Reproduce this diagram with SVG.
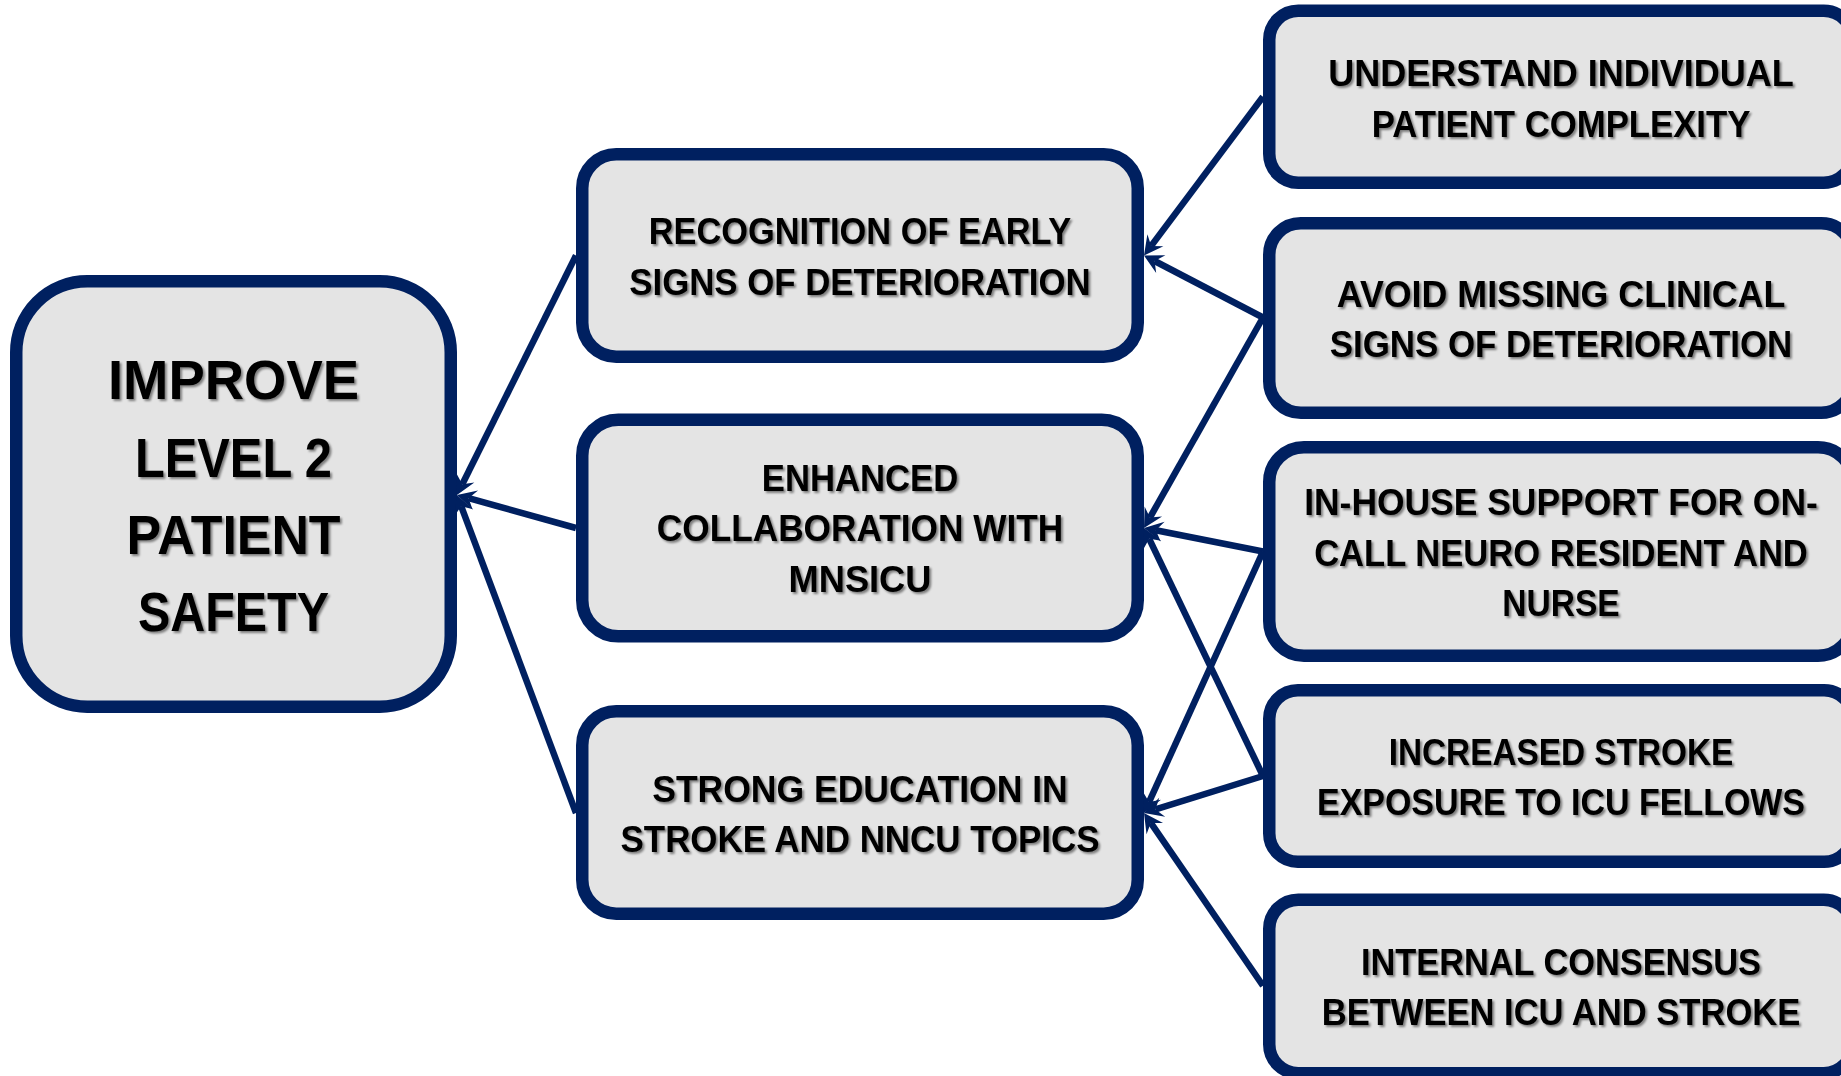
<svg xmlns="http://www.w3.org/2000/svg" width="1841" height="1076" viewBox="0 0 1841 1076">
  <defs>
    <!-- stealth arrowhead; reference point is the notch, tip sits 12px ahead -->
    <marker id="stealth" markerUnits="userSpaceOnUse" viewBox="-8 -11 22 22" markerWidth="22" markerHeight="22" refX="0" refY="0" orient="auto" overflow="visible">
      <path d="M12,0 L-7,-10 L0,0 L-7,10 Z" fill="#002060"/>
    </marker>
    <filter id="textShadow" x="-5%" y="-20%" width="110%" height="150%">
      <feDropShadow dx="2" dy="2" stdDeviation="1.3" flood-color="#000000" flood-opacity="0.45"/>
    </filter>
  </defs>
  <style>
    .box { fill: #E4E4E4; stroke: #002060; stroke-width: 12.5; }
    .label { font-family: "Liberation Sans", Arial, sans-serif; font-weight: bold; fill: #000000; text-anchor: middle; filter: url(#textShadow); }
    .big { font-size: 56px; }
    .small { font-size: 36px; }
    .conn { stroke: #002060; stroke-width: 6.5; fill: none; marker-end: url(#stealth); }
  </style>

  <rect width="1841" height="1076" fill="#FFFFFF"/>

  <!-- goal -->
  <g id="node-goal">
    <rect class="box" x="16.25" y="281.25" width="434.5" height="425.5" rx="71" ry="71"/>
    <text class="label big" x="233.5" y="398.5" textLength="251" lengthAdjust="spacingAndGlyphs">IMPROVE</text>
    <text class="label big" x="233.5" y="476.5" textLength="197" lengthAdjust="spacingAndGlyphs">LEVEL 2</text>
    <text class="label big" x="233.5" y="553.5" textLength="214" lengthAdjust="spacingAndGlyphs">PATIENT</text>
    <text class="label big" x="233.5" y="630.5" textLength="191" lengthAdjust="spacingAndGlyphs">SAFETY</text>
  </g>

  <!-- primary drivers -->
  <g id="node-recognition">
    <rect class="box" x="582.25" y="154.25" width="555.5" height="202.5" rx="34" ry="34"/>
    <text class="label small" x="860" y="243.5" textLength="422.5" lengthAdjust="spacingAndGlyphs">RECOGNITION OF EARLY</text>
    <text class="label small" x="860" y="295" textLength="461.4" lengthAdjust="spacingAndGlyphs">SIGNS OF DETERIORATION</text>
  </g>
  <g id="node-collaboration">
    <rect class="box" x="582.25" y="419.75" width="555.5" height="216.5" rx="36" ry="36"/>
    <text class="label small" x="860" y="491.3" textLength="196.5" lengthAdjust="spacingAndGlyphs">ENHANCED</text>
    <text class="label small" x="860" y="541.3" textLength="406.3" lengthAdjust="spacingAndGlyphs">COLLABORATION WITH</text>
    <text class="label small" x="860" y="592" textLength="142.8" lengthAdjust="spacingAndGlyphs">MNSICU</text>
  </g>
  <g id="node-education">
    <rect class="box" x="582.25" y="711.25" width="555.5" height="202.5" rx="34" ry="34"/>
    <text class="label small" x="860" y="801.6" textLength="415.5" lengthAdjust="spacingAndGlyphs">STRONG EDUCATION IN</text>
    <text class="label small" x="860" y="852.3" textLength="478.9" lengthAdjust="spacingAndGlyphs">STROKE AND NNCU TOPICS</text>
  </g>

  <!-- secondary drivers -->
  <g id="node-complexity">
    <rect class="box" x="1269.25" y="10.75" width="583.5" height="172" rx="29" ry="29"/>
    <text class="label small" x="1561" y="86" textLength="465.7" lengthAdjust="spacingAndGlyphs">UNDERSTAND INDIVIDUAL</text>
    <text class="label small" x="1561" y="136.7" textLength="378.7" lengthAdjust="spacingAndGlyphs">PATIENT COMPLEXITY</text>
  </g>
  <g id="node-clinical-signs">
    <rect class="box" x="1269.25" y="223.25" width="583.5" height="189.5" rx="31.5" ry="31.5"/>
    <text class="label small" x="1561" y="306.7" textLength="448.5" lengthAdjust="spacingAndGlyphs">AVOID MISSING CLINICAL</text>
    <text class="label small" x="1561" y="356.7" textLength="462.6" lengthAdjust="spacingAndGlyphs">SIGNS OF DETERIORATION</text>
  </g>
  <g id="node-in-house">
    <rect class="box" x="1269.25" y="447.25" width="583.5" height="208.5" rx="34.7" ry="34.7"/>
    <text class="label small" x="1561" y="514.5" textLength="513.6" lengthAdjust="spacingAndGlyphs">IN-HOUSE SUPPORT FOR ON-</text>
    <text class="label small" x="1561" y="566" textLength="493.7" lengthAdjust="spacingAndGlyphs">CALL NEURO RESIDENT AND</text>
    <text class="label small" x="1561" y="616" textLength="117.4" lengthAdjust="spacingAndGlyphs">NURSE</text>
  </g>
  <g id="node-exposure">
    <rect class="box" x="1269.25" y="690.25" width="583.5" height="171.5" rx="28.6" ry="28.6"/>
    <text class="label small" x="1561" y="764.6" textLength="344.7" lengthAdjust="spacingAndGlyphs">INCREASED STROKE</text>
    <text class="label small" x="1561" y="815" textLength="488" lengthAdjust="spacingAndGlyphs">EXPOSURE TO ICU FELLOWS</text>
  </g>
  <g id="node-consensus">
    <rect class="box" x="1269.25" y="899.75" width="583.5" height="173.5" rx="29" ry="29"/>
    <text class="label small" x="1561" y="974.7" textLength="400" lengthAdjust="spacingAndGlyphs">INTERNAL CONSENSUS</text>
    <text class="label small" x="1561" y="1025.4" textLength="478.6" lengthAdjust="spacingAndGlyphs">BETWEEN ICU AND STROKE</text>
  </g>

  <!-- arrows; each line stops at the arrowhead notch -->
  <g id="connectors">
    <line class="conn" x1="576" y1="255.5" x2="462.3" y2="484.3"/>
    <line class="conn" x1="576" y1="528" x2="468.6" y2="498.2"/>
    <line class="conn" x1="576" y1="813" x2="461.2" y2="506.2"/>

    <line class="conn" x1="1263" y1="96.75" x2="1151.2" y2="245.9"/>
    <line class="conn" x1="1263" y1="317.5" x2="1154.6" y2="261.0"/>
    <line class="conn" x1="1263" y1="317.5" x2="1149.9" y2="517.6"/>
    <line class="conn" x1="1263" y1="551.5" x2="1155.8" y2="530.3"/>
    <line class="conn" x1="1263" y1="551.5" x2="1149.0" y2="802.1"/>
    <line class="conn" x1="1263" y1="776" x2="1149.2" y2="538.8"/>
    <line class="conn" x1="1263" y1="776" x2="1155.5" y2="809.4"/>
    <line class="conn" x1="1263" y1="985.75" x2="1150.8" y2="822.9"/>
  </g>
</svg>
